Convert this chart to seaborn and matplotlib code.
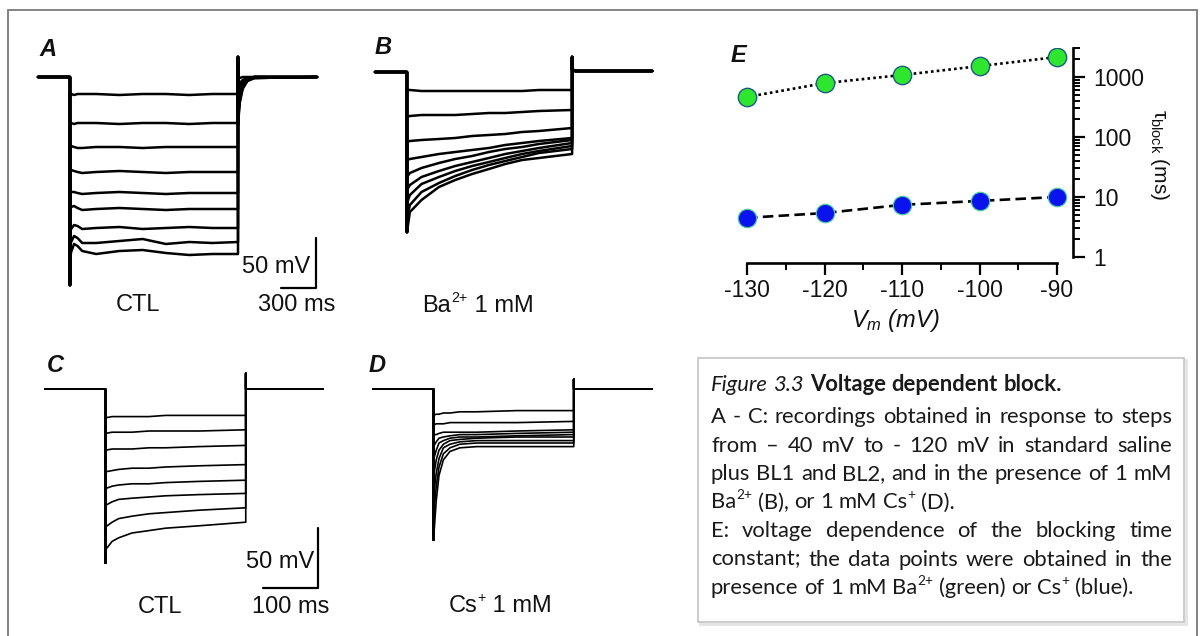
import matplotlib
matplotlib.use("Agg")
import matplotlib.pyplot as plt
import seaborn as sns
from matplotlib.patches import Rectangle
from matplotlib.ticker import FixedLocator, NullFormatter

W, H, DPI = 1204, 636, 100

# ----------------------------------------------------------------- data
BASE_MV = -40

# Panel A : CTL, long steps (time ms, membrane potential mV)
A_ON, A_OFF = 275, 1720
A_SPIKE_ON, A_SPIKE_OFF = -248, -20
A_t = [275, 285, 310, 340, 380, 500, 700, 900, 1100, 1300, 1500, 1720]
A_v = [
    [-57, -57, -58, -57, -57, -57, -58, -57, -57, -58, -57, -57],
    [-86, -86, -87, -86, -86, -86, -87, -86, -86, -87, -86, -86],
    [-110, -109, -110, -111, -111, -110, -110, -111, -110, -110, -110, -110],
    [-135, -133, -134, -135, -136, -135, -134, -135, -136, -135, -135, -135],
    [-157, -155, -155, -156, -157, -156, -155, -156, -157, -156, -156, -156],
    [-173, -170, -169, -171, -173, -172, -171, -172, -173, -172, -172, -172],
    [-195, -192, -188, -189, -192, -191, -190, -192, -191, -190, -191, -191],
    [-210, -205, -199, -201, -206, -206, -204, -202, -207, -205, -206, -205],
    [-222, -215, -207, -209, -214, -217, -214, -213, -216, -218, -217, -217],
]
A_tail_t = [1720, 1735, 1760, 1800, 1860, 2400]
A_tail_v = [
    [-42, -41, -40, -40, -40, -40],
    [-50, -46, -43, -41, -40, -40],
    [-58, -50, -45, -42, -40, -40],
    [-65, -54, -47, -42, -40, -40],
    [-70, -57, -48, -43, -40, -40],
    [-75, -60, -49, -43, -40, -40],
    [-80, -62, -50, -43, -41, -40],
    [-84, -64, -51, -44, -41, -40],
    [-88, -66, -52, -44, -41, -40],
]

# Panel B : Ba2+ 1 mM, long steps
B_ON, B_OFF = 275, 1695
B_SPIKE_ON, B_SPIKE_OFF = -200, -25
B_t = [275, 300, 400, 550, 690, 835, 980, 1120, 1265, 1410, 1695]
B_v = [
    [-58, -58, -59, -59, -59, -59, -59, -59, -59, -58, -58],
    [-85, -84, -83, -83, -83, -82, -81, -81, -80, -79, -78],
    [-110, -109, -108, -107, -106, -104, -103, -102, -100, -99, -96],
    [-128, -127, -125, -122, -120, -118, -116, -113, -111, -109, -106],
    [-145, -141, -136, -131, -127, -124, -120, -117, -115, -112, -108],
    [-158, -153, -145, -139, -134, -130, -126, -122, -119, -116, -111],
    [-171, -163, -152, -145, -139, -134, -130, -126, -122, -119, -114],
    [-185, -173, -160, -151, -144, -138, -133, -129, -125, -121, -117],
    [-200, -180, -168, -155, -148, -142, -137, -132, -128, -126, -122],
]
B_tail_t = [1695, 1720, 2385]
B_tail_v = [-37, -39, -39]

# Panel C : CTL, short steps
C_ON, C_OFF = 110, 365
C_SPIKE_ON, C_SPIKE_OFF = -185, -27
C_t = [110, 122, 134, 158, 189, 219, 280, 365]
C_v = [
    [-64, -63, -63, -63, -63, -62, -62, -62],
    [-77, -76, -76, -76, -75, -75, -75, -74],
    [-91, -90, -90, -90, -89, -89, -88, -87],
    [-109, -108, -107, -106, -106, -105, -104, -103],
    [-123, -121, -120, -119, -119, -118, -117, -116],
    [-137, -134, -132, -131, -130, -129, -128, -127],
    [-155, -151, -148, -146, -144, -143, -141, -139],
    [-174, -167, -164, -160, -158, -156, -154, -151],
]
C_tail_t = [365, 372, 505]
C_tail_v = [-40, -40, -40]

# Panel D : Cs+ 1 mM, short steps
D_ON, D_OFF = 110, 365
D_SPIKE_ON, D_SPIKE_OFF = -166, -32
D_t = [110, 115, 120, 128, 140, 158, 189, 262, 365]
D_v = [
    [-62, -61, -61, -60, -60, -59, -59, -58, -58],
    [-70, -69, -69, -69, -68, -68, -68, -68, -67],
    [-78, -78, -77, -76, -76, -76, -76, -75, -74],
    [-88, -84, -81, -80, -79, -78, -78, -77, -76],
    [-99, -91, -85, -83, -81, -80, -80, -79, -78],
    [-113, -99, -91, -86, -83, -82, -81, -80, -80],
    [-130, -110, -98, -89, -86, -84, -83, -83, -83],
    [-146, -121, -105, -94, -89, -86, -85, -85, -85],
    [-166, -133, -112, -99, -92, -89, -88, -88, -88],
]
D_tail_t = [365, 372, 507]
D_tail_v = [-40, -40, -40]

# scale bars (ms, mV)
SCALE_AB = (300, 50)
SCALE_CD = (100, 50)

# Panel E : blocking time constant vs membrane potential
E_vm = [-130, -120, -110, -100, -90]
E_tau_ba = [465, 790, 1080, 1520, 2150]
E_tau_cs = [4.5, 5.4, 7.4, 8.6, 10.0]
E_yticks = [1, 10, 100, 1000]
E_ytick_labels = ["1", "10", "100", "1000"]

# ----------------------------------------------------------------- style
sns.set_theme(style="ticks")
plt.rcParams.update({
    "font.family": ["Liberation Sans", "DejaVu Sans"],
    "axes.unicode_minus": False,
    "mathtext.fontset": "custom",
    "mathtext.rm": "Liberation Sans",
    "mathtext.it": "Liberation Sans:italic",
    "mathtext.bf": "Liberation Sans:bold",
    "text.color": "#111111",
})

fig = plt.figure(figsize=(W / DPI, H / DPI), dpi=DPI)
fig.patch.set_facecolor("white")
renderer = fig.canvas.get_renderer()


def px_axes(x0, y0, x1, y1):
    ax = fig.add_axes([x0 / W, 1 - y1 / H, (x1 - x0) / W, (y1 - y0) / H])
    ax.patch.set_alpha(0)
    return ax


def ftext(px, py, s, **kw):
    return fig.text(px / W, 1 - py / H, s, **kw)


def measure_props(s, props):
    t = fig.text(0, 0, s, **props)
    w = t.get_window_extent(renderer=renderer).width
    t.remove()
    return w


def trace_axes(box, px_t0, ms_px, px_base, mv_px):
    x0, y0, x1, y1 = box
    ax = px_axes(*box)
    ax.set_xlim((x0 - px_t0) * ms_px, (x1 - px_t0) * ms_px)
    ax.set_ylim(BASE_MV - (y1 - px_base) * mv_px, BASE_MV + (px_base - y0) * mv_px)
    ax.axis("off")
    return ax


def draw_traces(ax, on, off, spike_on, spike_off, ts, vs, tail_t, tail_vs, lw):
    for v, tv in zip(vs, tail_vs):
        t = [0, on, on] + list(ts) + [off] + list(tail_t)
        y = [BASE_MV, BASE_MV, spike_on] + list(v) + [spike_off] + list(tv)
        sns.lineplot(x=t, y=y, ax=ax, sort=False, estimator=None, errorbar=None,
                     color="black", linewidth=lw, legend=False)


def scale_bar(ax, corner_t, corner_v, scale):
    dt, dv = scale
    sns.lineplot(x=[corner_t - dt, corner_t, corner_t],
                 y=[corner_v, corner_v, corner_v + dv],
                 ax=ax, sort=False, estimator=None, errorbar=None,
                 color="black", linewidth=1.6, legend=False)


def sup_label(cx, base_y, runs, fs, family=None):
    """Draw text made of (text, is_superscript) runs, centred on cx."""
    fam = family or ["Liberation Sans", "DejaVu Sans"]
    props = [dict(family=fam, fontsize=fs * (0.6 if sup else 1.0), color="#111111")
             for _, sup in runs]
    widths = [measure_props(s, p) for (s, _), p in zip(runs, props)]
    x = cx - sum(widths) / 2
    fs_px = fs * DPI / 72
    for (s, sup), p, w in zip(runs, props, widths):
        ftext(x, base_y - (0.42 * fs_px if sup else 0), s, ha="left", va="baseline", **p)
        x += w


# ---- panel A
axA = trace_axes((30, 35, 340, 300), 38, 8.6, 77, 1.0)
draw_traces(axA, A_ON, A_OFF, A_SPIKE_ON, A_SPIKE_OFF, A_t, A_v, A_tail_t, A_tail_v, 1.8)
scale_bar(axA, (316 - 38) * 8.6, BASE_MV - (288 - 77) * 1.0, SCALE_AB)

# ---- panel B
axB = trace_axes((360, 35, 680, 300), 375, 8.6, 72, 1.0)
draw_traces(axB, B_ON, B_OFF, B_SPIKE_ON, B_SPIKE_OFF, B_t, B_v, B_tail_t,
            [B_tail_v] * len(B_v), 1.8)

# ---- panel C
msC, mvC = 1 / 0.55, 1 / 1.2
axC = trace_axes((30, 340, 340, 600), 45, msC, 389, mvC)
draw_traces(axC, C_ON, C_OFF, C_SPIKE_ON, C_SPIKE_OFF, C_t, C_v, C_tail_t,
            [C_tail_v] * len(C_v), 1.2)
scale_bar(axC, (318 - 45) * msC, BASE_MV - (588 - 389) * mvC, SCALE_CD)

# ---- panel D
axD = trace_axes((360, 340, 680, 600), 373, msC, 389, mvC)
draw_traces(axD, D_ON, D_OFF, D_SPIKE_ON, D_SPIKE_OFF, D_t, D_v, D_tail_t,
            [D_tail_v] * len(D_v), 1.2)

# ---- panel labels / annotations
letter_kw = dict(fontsize=17, fontweight="bold", fontstyle="italic", ha="center", va="center")
ftext(48, 50, "A", **letter_kw)
ftext(383, 47, "B", **letter_kw)
ftext(55, 365, "C", **letter_kw)
ftext(377, 365, "D", **letter_kw)
ftext(738, 56, "E", **letter_kw)

lab_kw = dict(fontsize=17, va="baseline")
ftext(310, 273, "50 mV", ha="right", **lab_kw)
ftext(138, 311, "CTL", ha="center", **lab_kw)
ftext(297, 311, "300 ms", ha="center", **lab_kw)
sup_label(478, 312, [("Ba", False), ("2+", True), (" 1 mM", False)], 17)
ftext(314, 568, "50 mV", ha="right", **lab_kw)
ftext(160, 613, "CTL", ha="center", **lab_kw)
ftext(291, 613, "100 ms", ha="center", **lab_kw)
sup_label(500, 612, [("Cs", False), ("+", True), (" 1 mM", False)], 17)

# ---- panel E
px_dec = 60.0
y_top_px = 257 - px_dec * 3.4771
axE = px_axes(735, y_top_px, 1073, 263)
sns.lineplot(x=E_vm, y=E_tau_ba, ax=axE, color="black", linewidth=1.9,
             linestyle=(0, (1, 1.2)), legend=False, zorder=2)
sns.lineplot(x=E_vm, y=E_tau_cs, ax=axE, color="black", linewidth=1.9,
             linestyle=(0, (4, 2)), legend=False, zorder=2)
sns.scatterplot(x=E_vm, y=E_tau_ba, ax=axE, s=175, color="#2fe62f",
                edgecolor="#1d5a86", linewidth=1.0, zorder=3, legend=False)
sns.scatterplot(x=E_vm, y=E_tau_cs, ax=axE, s=175, color="#0a12ee",
                edgecolor="#48c9a0", linewidth=0.9, zorder=3, legend=False)
axE.set_yscale("log")
axE.set_xlim(-130 - 12 / 7.75, -90 + 16 / 7.75)
axE.set_ylim(10 ** (-6 / px_dec), 3000)
for side in ("top", "left"):
    axE.spines[side].set_visible(False)
axE.spines["bottom"].set_bounds(-130, -90)
axE.spines["right"].set_bounds(1, 3000)
for side in ("bottom", "right"):
    axE.spines[side].set_linewidth(1.9)
    axE.spines[side].set_color("black")
axE.yaxis.tick_right()
axE.set_xticks(E_vm)
axE.set_xticklabels([str(v) for v in E_vm])
axE.xaxis.set_minor_locator(FixedLocator([-125, -115, -105, -95]))
axE.set_yticks(E_yticks)
axE.set_yticklabels(E_ytick_labels)
minor_y = [m * d for d in (1, 10, 100) for m in range(2, 10)] + [2000, 3000]
axE.yaxis.set_minor_locator(FixedLocator(minor_y))
axE.yaxis.set_minor_formatter(NullFormatter())
axE.tick_params(axis="both", which="major", direction="out", length=8.5, width=1.6,
                labelsize=16.5, color="black", labelcolor="#111111")
axE.tick_params(axis="both", which="minor", direction="out", length=5, width=1.4,
                color="black")
axE.tick_params(axis="x", which="major", pad=3)
axE.tick_params(axis="y", which="major", pad=6)
axE.set_xlabel("")
axE.set_ylabel("")
axE.grid(False)

ftext(895, 327, r"V$_{\mathit{m}}$ (mV)", ha="center", va="baseline",
      fontsize=17, fontstyle="italic")
ftext(1160, 155, r"τ$_{\mathrm{block}}$ (ms)", ha="center", va="center",
      fontsize=15, rotation=-90)

# ---- outer frame and caption box
fig.add_artist(Rectangle((8 / W, 1 - 640 / H), (1197 - 8) / W, (640 - 10) / H,
                         transform=fig.transFigure, fill=False,
                         edgecolor="#7a7a7a", linewidth=1.3))
fig.add_artist(Rectangle((700 / W, 1 - 624 / H), (1186 - 700) / W, (624 - 360) / H,
                         transform=fig.transFigure, fill=False,
                         edgecolor="#e4e4e4", linewidth=2.0))
fig.add_artist(Rectangle((698 / W, 1 - 622 / H), (1184 - 698) / W, (622 - 358) / H,
                         transform=fig.transFigure, facecolor="white",
                         edgecolor="#c4c4c4", linewidth=1.2))

# ---- caption text (justified, word by word)
CAP_FONT = ["Lato", "DejaVu Sans"]
CAP_COLOR = "#1a1a1a"


def cprops(kind, fs):
    p = dict(family=CAP_FONT, fontsize=fs, color=CAP_COLOR)
    if kind == "i":
        p["fontstyle"] = "italic"
    elif kind == "b":
        p["fontweight"] = "bold"
    elif kind == "sup":
        p["fontsize"] = fs * 0.62
    return p


def measure(s, kind, fs):
    return measure_props(s, cprops(kind, fs))


def word_runs(word, kind="n"):
    if "^" in word:
        base, sup = word.split("^")
        return [(base, kind), (sup, "sup")]
    return [(word, kind)]


title_words = [("Figure", "i"), ("3.3", "i"), ("Voltage", "b"), ("dependent", "b"), ("block.", "b")]
body_lines = [
    ("A - C: recordings obtained in response to steps", True),
    ("from \u2013 40 mV to - 120 mV in standard saline", True),
    ("plus BL1 and BL2, and in the presence of 1 mM", True),
    ("Ba^2+ (B), or 1 mM Cs^+ (D).", False),
    ("E: voltage dependence of the blocking time", True),
    ("constant; the data points were obtained in the", True),
    ("presence of 1 mM Ba^2+ (green) or Cs^+ (blue).", False),
]

# calibrate font size so that the title spans its width in the reference
fs0 = 17.0
sp0 = measure("a a", "n", fs0) - measure("aa", "n", fs0)
tw = sum(measure(w, k, fs0) for w, k in title_words) + sp0 * (len(title_words) - 1)
FS = fs0 * 350.0 / tw

TEXT_L, TEXT_R = 711, 1172
baselines = [391, 423, 451.5, 480, 508.5, 537, 565.5, 594]

lines = [([word_runs(w, k) for w, k in title_words], False)]
for s, just in body_lines:
    lines.append(([word_runs(w) for w in s.split(" ")], just))

space_w = measure("a a", "n", FS) - measure("aa", "n", FS)
fs_px = FS * DPI / 72
for (words, just), base_y in zip(lines, baselines):
    widths = [[measure(r, k, FS) for r, k in runs] for runs in words]
    total = sum(sum(w) for w in widths)
    gap = (TEXT_R - TEXT_L - total) / (len(words) - 1) if just else space_w
    x = TEXT_L
    for runs, ws in zip(words, widths):
        for (r, k), w in zip(runs, ws):
            y = base_y - (0.42 * fs_px if k == "sup" else 0)
            ftext(x, y, r, ha="left", va="baseline", **cprops(k, FS))
            x += w
        x += gap

fig.savefig("out.png", dpi=DPI, facecolor="white")
